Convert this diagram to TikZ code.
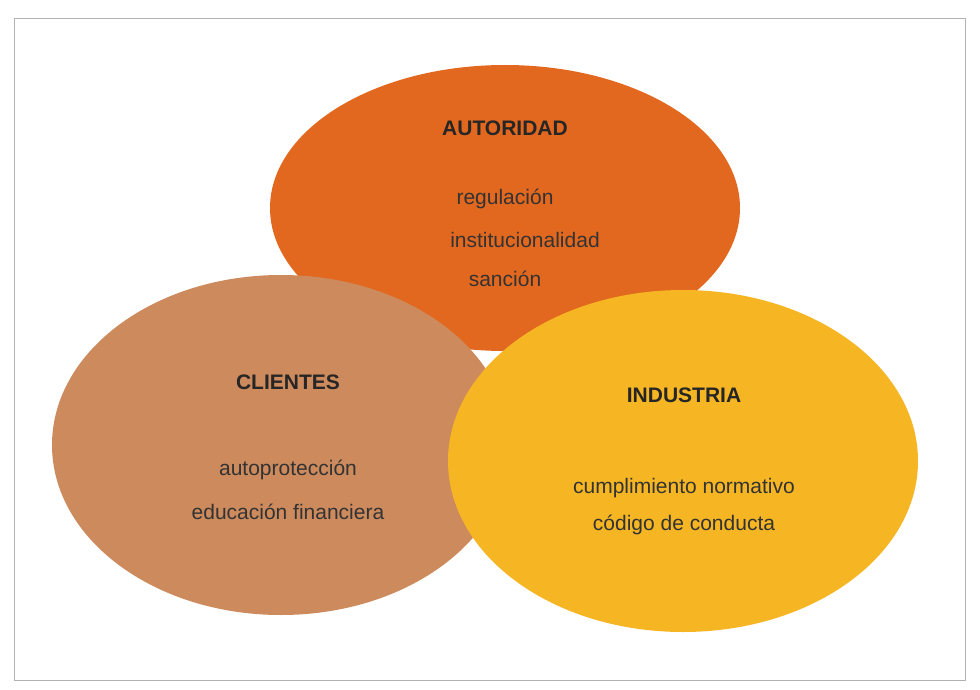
\documentclass[tikz,border=0pt]{standalone}
\usepackage{fontspec}
\setmainfont{Liberation Sans}
\begin{document}
\begin{tikzpicture}[x=1pt,y=-1pt,
  lbl/.style={text=black!80,font=\fontsize{21}{25}\selectfont,align=center},
  ttl/.style={text=black!85,font=\fontsize{21}{25}\selectfont\bfseries}]
\definecolor{cA}{HTML}{E2681F}
\definecolor{cC}{HTML}{CD8A5D}
\definecolor{cI}{HTML}{F6B623}
\useasboundingbox (0,0) rectangle (980,690);
\fill[white] (0,0) rectangle (980,690);
\draw[black!30,line width=0.8pt] (14,18) rectangle (965,680);
\fill[cA] (505,208) ellipse [x radius=235, y radius=143];
\fill[cC] (281,445) ellipse [x radius=229, y radius=170];
\fill[cI] (683,461) ellipse [x radius=235, y radius=171];
\node[ttl] (ta) at (505,128) {AUTORIDAD};
\node[lbl] (a1) at (505,199) {regulación};
\node[lbl] (a2) at (525,240) {institucionalidad};
\node[lbl] (a3) at (505,279) {sanción};
\node[ttl] (tc) at (288,382) {CLIENTES};
\node[lbl] (c1) at (288,470) {autoprotección};
\node[lbl] (c2) at (288,512) {educación financiera};
\node[ttl] (ti) at (684,395) {INDUSTRIA};
\node[lbl] (i1) at (684,488) {cumplimiento normativo};
\node[lbl] (i2) at (684,525) {código de conducta};
\end{tikzpicture}
\end{document}
